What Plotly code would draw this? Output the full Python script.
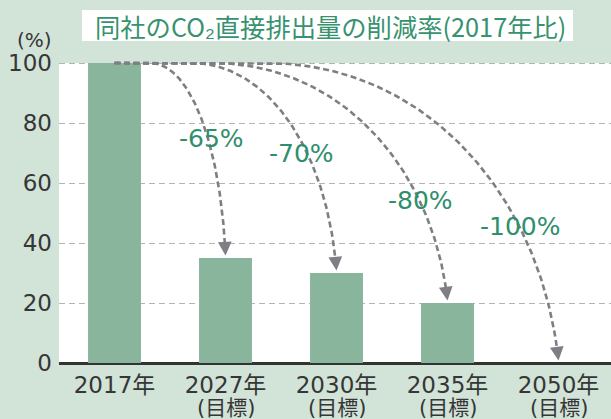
import numpy as np
import plotly.graph_objects as go

# ---- data ----
categories = ["2017年", "2027年", "2030年", "2035年", "2050年"]
sub_labels = ["", "(目標)", "(目標)", "(目標)", "(目標)"]
values = [100, 35, 30, 20, 0]
reduction_labels = ["-65%", "-70%", "-80%", "-100%"]
y_ticks = [0, 20, 40, 60, 80, 100]
title_text = "同社のCO₂直接排出量の削減率(2017年比)"
unit_text = "(%)"

# ---- style ----
BG = "#d2e3d8"
BAR = "#8ab59d"
GREEN = "#2f8f6d"
TXT = "#363636"
ARROW = "#7e7f84"
FONT = "DejaVu Sans, Noto Sans CJK JP, sans-serif"
CJK = "Noto Sans CJK JP, sans-serif"

x_pos = list(range(len(categories)))
curve_depart = [0.32, 0.69, 0.88, 1.36]     # where each arrow leaves the 100 line
label_pos = [(0.876, 74.7), (1.686, 69.7), (2.761, 54.2), (3.662, 45.4)]
tip_gap = 0.8

fig = go.Figure()
fig.add_trace(go.Bar(x=x_pos, y=values, width=0.477, marker=dict(color=BAR, line=dict(width=0)),
                     hoverinfo="skip", showlegend=False))

annotations = []
t = np.linspace(0, 1, 120)
for k in range(1, len(values)):
    xe = x_pos[k]
    ye = values[k] + tip_gap
    x0, y0 = x_pos[0], values[0]
    xs = curve_depart[k - 1]
    W = xe - xs
    H = y0 - ye
    P0 = (xs, y0)
    P1 = (xs + 0.552 * W, y0)
    P2 = (xe - 0.06 * W, ye + 0.552 * H)
    P3 = (xe, ye)
    bx = (1 - t) ** 3 * P0[0] + 3 * (1 - t) ** 2 * t * P1[0] + 3 * (1 - t) * t ** 2 * P2[0] + t ** 3 * P3[0]
    by = (1 - t) ** 3 * P0[1] + 3 * (1 - t) ** 2 * t * P1[1] + 3 * (1 - t) * t ** 2 * P2[1] + t ** 3 * P3[1]
    keep = by > ye + 3.5
    cx = [x0] + list(bx[keep])
    cy = [y0] + list(by[keep])
    fig.add_trace(go.Scatter(x=cx, y=cy, mode="lines",
                             line=dict(color=ARROW, width=2.6, dash="6px,3.5px"),
                             hoverinfo="skip", showlegend=False))
    annotations.append(dict(x=xe, y=ye, ax=cx[-1], ay=cy[-1], xref="x", yref="y",
                            axref="x", ayref="y", text="", showarrow=True,
                            arrowhead=2, arrowsize=1.1, arrowwidth=2.5,
                            arrowcolor=ARROW, standoff=0))
    lx, ly = label_pos[k - 1]
    annotations.append(dict(x=lx, y=ly, xref="x", yref="y", text=reduction_labels[k - 1],
                            showarrow=False, font=dict(family=FONT, size=25, color=GREEN)))

for i, s in enumerate(sub_labels):
    if s:
        annotations.append(dict(x=x_pos[i], y=0, xref="x", yref="y", text=s, showarrow=False,
                                yanchor="middle", yshift=-45,
                                font=dict(family=FONT, size=21, color=TXT)))

annotations.append(dict(x=(330 - 59) / 552, y=(363 - 25.5) / 305, xref="paper", yref="paper",
                        text=title_text, showarrow=False, xanchor="center", yanchor="middle",
                        font=dict(family=CJK, size=25.3, color="#37926f")))
annotations.append(dict(x=(34 - 59) / 552, y=(363 - 40) / 305, xref="paper", yref="paper",
                        text=unit_text, showarrow=False, xanchor="center", yanchor="middle",
                        font=dict(family=FONT, size=20, color=TXT)))

shapes = [
    dict(type="rect", xref="paper", yref="y", x0=0, x1=1, y0=0, y1=100,
         fillcolor="white", line=dict(width=0), layer="below"),
    dict(type="rect", xref="paper", yref="paper",
         x0=(82 - 59) / 552, x1=(573 - 59) / 552,
         y0=(363 - 41) / 305, y1=(363 - 10) / 305,
         fillcolor="white", line=dict(width=0), layer="below"),
]

fig.update_layout(
    width=611, height=419,
    margin=dict(l=59, r=0, t=58, b=56),
    paper_bgcolor=BG, plot_bgcolor=BG,
    showlegend=False,
    annotations=annotations,
    shapes=shapes,
    xaxis=dict(range=[-0.5, 4.473], tickmode="array", tickvals=x_pos, ticktext=categories,
               showgrid=False, zeroline=False, showline=False, ticks="",
               tickfont=dict(family=FONT, size=23, color=TXT), ticklabelstandoff=6,
               fixedrange=True),
    yaxis=dict(range=[0, 101.667], tickmode="array", tickvals=y_ticks,
               ticktext=[str(v) for v in y_ticks],
               showgrid=True, gridcolor="#b5b5b5", gridwidth=1, griddash="6px,4px",
               zeroline=True, zerolinecolor="#333333", zerolinewidth=2.5,
               showline=False, ticks="",
               tickfont=dict(family=FONT, size=23, color=TXT), ticklabelstandoff=6,
               fixedrange=True),
)

fig.write_html("out.html")
